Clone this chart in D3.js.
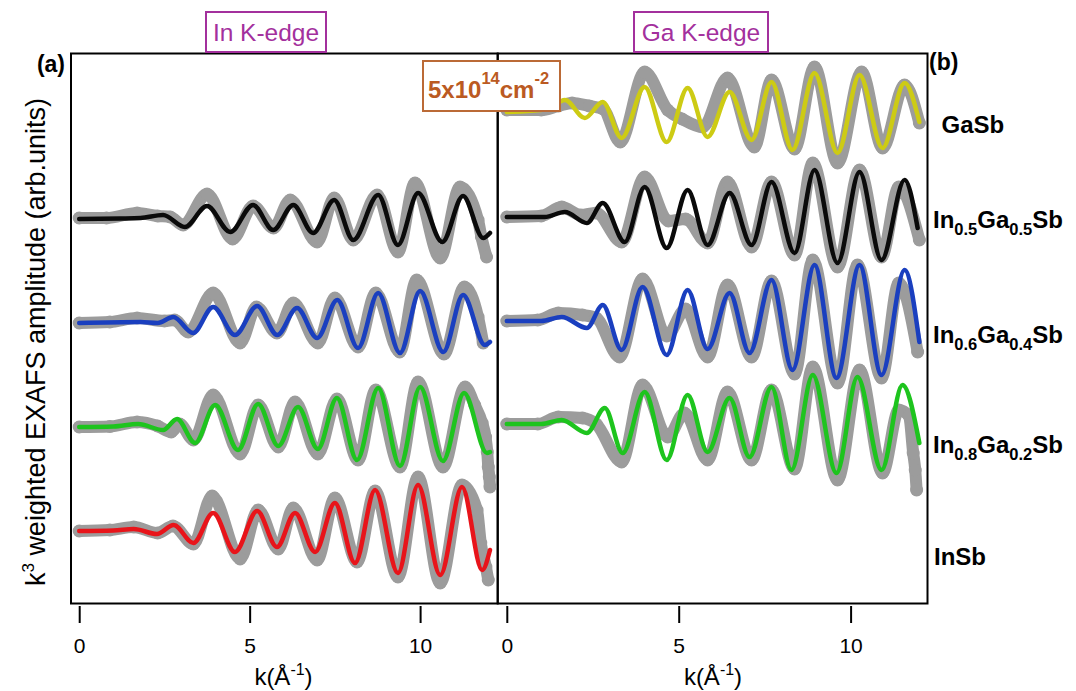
<!DOCTYPE html>
<html>
<head>
<meta charset="utf-8">
<script src="https://cdn.jsdelivr.net/npm/d3@7"></script>
<style>
  body { margin: 0; background: #fff; }
  svg { display: block; font-family: Arial, "Liberation Sans", sans-serif; }
</style>
</head>
<body>
<svg id="chart" width="1076" height="691"></svg>
<script>
// ---- tick values ----
const kTicks = [0, 5, 10];

// ---- sample names (right-hand labels, top to bottom) ----
const sampleNames = ["GaSb", "In0.5Ga0.5Sb", "In0.6Ga0.4Sb", "In0.8Ga0.2Sb", "InSb"];

// ---- vertical stacking offsets (arb. units) ----
const inEdgeOffsets = [38.4, 28.0, 17.6, 7.2];      // In0.5, In0.6, In0.8, InSb
const gaEdgeOffsets = [49.1, 38.6, 28.2, 17.9];     // GaSb, In0.5, In0.6, In0.8

// ---- In K-edge: k^3 chi(k), [k, amplitude] ----
const inFitIn05 = [[0,0],[1.2,0.05],[1.8,0.1],[2.46,0.4],[3.1,-0.8],[3.75,1.3],[4.43,-1.3],[5.1,1.4],[5.69,-1.1],[6.28,1.4],[6.86,-1.4],[7.48,1.9],[8.04,-2.1],[8.77,2.4],[9.35,-2.6],[9.94,2.6],[10.65,-2.3],[11.26,2.3],[11.85,-1.9],[12.05,-1.4]];
const inDataIn05 = [[0,0.1],[0.8,0.1],[1.7,0.6],[2.3,0.3],[2.67,0.2],[3.05,-0.6],[3.75,2.5],[4.5,-2.0],[5.1,1.3],[5.7,-0.9],[6.19,1.9],[6.98,-2.3],[7.48,2.1],[8.04,-2.1],[8.74,2.4],[9.35,-3.3],[9.85,3.6],[10.59,-3.9],[11.17,3.2],[11.7,-0.1],[11.8,-1.8],[11.95,-3.8]];

const inFitIn06 = [[0,0],[1.8,0.1],[2.3,0],[2.76,0.6],[3.34,-1.0],[3.93,1.6],[4.57,-1.2],[5.22,1.7],[5.81,-1.2],[6.39,1.5],[6.98,-1.5],[7.57,2.3],[8.18,-2.5],[8.77,3.0],[9.41,-3.0],[10.0,3.2],[10.68,-2.9],[11.26,2.8],[11.9,-2.2],[12.05,-1.9]];
const inDataIn06 = [[0,0],[0.9,0.1],[1.7,0.5],[2.5,0.2],[2.8,0.3],[3.2,-0.9],[3.93,3.0],[4.72,-2.0],[5.2,1.6],[5.8,-1.0],[6.28,2.0],[7.0,-2.0],[7.5,2.5],[8.18,-2.4],[8.7,3.0],[9.4,-2.9],[9.9,4.3],[10.7,-3.1],[11.3,3.6],[11.7,0.6],[11.85,-2.0]];

const inFitIn08 = [[0,0],[1.0,0.05],[1.73,0.3],[2.46,-0.3],[2.87,0.8],[3.4,-1.6],[3.99,2.2],[4.66,-2.3],[5.25,2.3],[5.84,-1.9],[6.42,2.0],[7.0,-2.2],[7.56,2.9],[8.15,-3.3],[8.77,3.9],[9.41,-3.9],[10.0,4.0],[10.67,-3.4],[11.29,3.4],[11.96,-2.6],[12.05,-2.5]];
const inDataIn08 = [[0,0],[0.9,0.05],[1.7,0.5],[2.3,0.1],[2.7,-0.5],[2.95,0.3],[3.35,-1.3],[3.93,3.2],[4.72,-2.7],[5.25,2.2],[5.84,-2.0],[6.33,2.5],[7.0,-2.7],[7.56,2.8],[8.18,-3.3],[8.7,3.7],[9.41,-4.0],[9.94,4.5],[10.67,-4.0],[11.32,4.0],[11.6,2.2],[11.82,0.4],[11.92,-1.0],[11.97,-2.5],[12.0,-4.0],[12.03,-5.0],[12.05,-6.0]];

const inFitInSb = [[0,0],[1.0,0.05],[1.6,0.2],[2.28,-0.3],[2.77,0.6],[3.35,-1.2],[3.93,1.8],[4.57,-2.1],[5.22,2.0],[5.8,-1.6],[6.33,1.8],[6.92,-2.1],[7.5,2.8],[8.09,-3.2],[8.68,4.1],[9.35,-4.2],[9.94,4.6],[10.59,-4.4],[11.23,4.4],[11.82,-3.9],[12.05,-1.9]];
const inDataInSb = [[0,0],[0.9,0.1],[1.6,0.4],[2.3,-0.2],[2.75,0.5],[3.35,-1.3],[3.9,3.5],[4.72,-2.8],[5.25,2.1],[5.84,-1.8],[6.28,2.3],[6.98,-2.9],[7.5,3.3],[8.15,-3.1],[8.68,4.0],[9.35,-4.6],[9.94,5.4],[10.59,-5.2],[11.23,4.6],[11.67,2.1],[11.78,-1.2],[11.93,-3.6],[12.0,-4.9]];

// ---- Ga K-edge: k^3 chi(k), [k, amplitude] ----
const gaFitGaSb = [[0,0],[1.2,0.3],[1.69,1.2],[2.27,-0.6],[2.79,1.0],[3.34,-2.6],[4.01,2.5],[4.65,-3.0],[5.26,2.4],[5.84,-2.5],[6.48,2.0],[7.12,-2.8],[7.7,3.0],[8.31,-3.8],[8.95,3.9],[9.62,-4.1],[10.26,3.7],[10.93,-3.6],[11.57,2.9],[12.0,-1.0]];
const gaDataGaSb = [[0,0.2],[1.0,0.2],[1.5,0.6],[1.9,0.9],[2.4,0.6],[2.8,0.3],[3.3,-3.0],[4.01,4.0],[4.68,0.2],[5.1,-0.7],[5.7,-1.5],[6.42,3.4],[7.2,-3.5],[7.7,3.2],[8.37,-3.7],[8.95,4.5],[9.62,-5.1],[10.32,4.0],[10.93,-3.6],[11.57,2.7],[12.0,-1.1]];

const gaFitIn05 = [[0,0],[1.1,0],[1.69,0.5],[2.33,-0.6],[2.79,1.4],[3.43,-2.5],[4.01,3.0],[4.65,-3.1],[5.26,2.7],[5.84,-2.8],[6.48,2.4],[7.12,-2.8],[7.7,3.5],[8.37,-3.6],[8.95,4.7],[9.62,-4.6],[10.26,4.5],[10.9,-4.3],[11.57,3.7],[11.95,-1.1]];
const gaDataIn05 = [[0,0],[1.0,0.1],[1.6,1.0],[2.15,0.2],[2.6,0.4],[3.34,-2.5],[4.01,4.0],[4.7,-0.4],[5.2,-0.2],[5.84,-2.6],[6.42,3.5],[7.12,-3.0],[7.7,3.5],[8.37,-3.8],[8.9,5.4],[9.62,-5.0],[10.26,4.7],[10.9,-4.0],[11.4,3.0],[12.0,-2.3]];

const gaFitIn06 = [[0,0],[1.0,0],[1.6,0.4],[2.33,-0.7],[2.79,1.6],[3.34,-2.9],[3.95,3.4],[4.65,-3.4],[5.26,3.1],[5.84,-2.8],[6.48,2.8],[7.06,-3.2],[7.7,4.1],[8.31,-4.9],[8.95,5.6],[9.59,-5.7],[10.26,5.6],[10.9,-5.4],[11.57,5.1],[12.0,-2.1]];
const gaDataIn06 = [[0,0],[0.9,0.1],[1.5,0.8],[2.2,0.6],[2.6,0.3],[3.28,-3.6],[3.95,4.2],[4.65,-1.5],[5.2,1.2],[5.84,-3.6],[6.42,3.6],[7.12,-3.6],[7.7,4.0],[8.37,-5.3],[8.9,6.1],[9.62,-6.2],[10.2,5.6],[10.9,-5.7],[11.4,3.8],[11.95,-3.1]];

const gaFitIn08 = [[0,0],[1.0,0],[1.6,0.4],[2.33,-0.9],[2.85,1.6],[3.37,-2.9],[4.01,3.2],[4.65,-3.6],[5.26,2.9],[5.84,-2.8],[6.48,2.6],[7.06,-3.3],[7.7,3.7],[8.28,-4.6],[8.9,4.9],[9.59,-4.9],[10.2,4.7],[10.9,-4.6],[11.51,3.9],[12.0,-1.9]];
const gaDataIn08 = [[0,0],[0.9,0],[1.5,0.7],[2.2,0.6],[2.6,0.0],[3.34,-3.8],[3.95,3.9],[4.68,-1.3],[5.17,1.1],[5.84,-3.6],[6.42,3.2],[7.12,-3.6],[7.7,3.4],[8.37,-4.5],[8.9,5.7],[9.62,-5.6],[10.26,5.4],[10.93,-4.9],[11.4,1.4],[11.7,0.8],[11.82,-2.9],[11.88,-4.6],[11.92,-6.6]];

// ---- colours ----
const dataGray = "#9c9c9c";
const fitColorsIn = ["#0a0a0a", "#1a3fbf", "#1ec41e", "#e8141a"];
const fitColorsGa = ["#cdcb14", "#0a0a0a", "#1a3fbf", "#1ec41e"];

// ---- series tables built from the arrays above ----
const inSeries = [
  { fit: inFitIn05, data: inDataIn05 },
  { fit: inFitIn06, data: inDataIn06 },
  { fit: inFitIn08, data: inDataIn08 },
  { fit: inFitInSb, data: inDataInSb }
].map((s, i) => ({ ...s, offset: inEdgeOffsets[i], color: fitColorsIn[i] }));

const gaSeries = [
  { fit: gaFitGaSb, data: gaDataGaSb },
  { fit: gaFitIn05, data: gaDataIn05 },
  { fit: gaFitIn06, data: gaDataIn06 },
  { fit: gaFitIn08, data: gaDataIn08 }
].map((s, i) => ({ ...s, offset: gaEdgeOffsets[i], color: fitColorsGa[i] }));

// ---- scales ----
const svg = d3.select("#chart");
const y = d3.scaleLinear().domain([0, 55]).range([603, 53]);
const xIn = d3.scaleLinear().domain([0, 10]).range([79.2, 420.1]);
const xGa = d3.scaleLinear().domain([0, 10]).range([506.8, 850.6]);

// panel frames
const frameTop = 53.5, frameBottom = 603.5;
const frames = [[71, 497.7], [497.7, 927.5]];
frames.forEach(([x0, x1]) => {
  svg.append("rect")
    .attr("x", x0).attr("y", frameTop)
    .attr("width", x1 - x0).attr("height", frameBottom - frameTop)
    .attr("fill", "none").attr("stroke", "#000").attr("stroke-width", 2);
});

function drawPanel(x, series) {
  const g = svg.append("g");
  const lineFor = s => d3.line()
    .x(d => x(d[0]))
    .y(d => y(d[1] + s.offset))
    .curve(d3.curveMonotoneX);

  // measured data: thick grey markers
  series.forEach(s => {
    g.append("path")
      .attr("d", lineFor(s)(s.data))
      .attr("fill", "none").attr("stroke", dataGray)
      .attr("stroke-width", 12)
      .attr("stroke-linecap", "round").attr("stroke-linejoin", "round");
    g.selectAll(null).data(s.data).join("circle")
      .attr("cx", d => x(d[0]))
      .attr("cy", d => y(d[1] + s.offset))
      .attr("r", 6.5).attr("fill", dataGray);
  });
  // fits
  series.forEach(s => {
    g.append("path")
      .attr("d", lineFor(s)(s.fit))
      .attr("fill", "none").attr("stroke", s.color)
      .attr("stroke-width", 4.5)
      .attr("stroke-linecap", "round").attr("stroke-linejoin", "round");
  });
}
drawPanel(xIn, inSeries);
drawPanel(xGa, gaSeries);

// bottom axes
[xIn, xGa].forEach(x => {
  const ax = svg.append("g")
    .attr("transform", "translate(0,606)")
    .call(d3.axisBottom(x).tickValues(kTicks).tickSize(17).tickPadding(15.5).tickFormat(d3.format("d")));
  ax.select(".domain").remove();
  ax.selectAll(".tick line").attr("stroke", "#000").attr("stroke-width", 2);
  ax.selectAll(".tick text")
    .attr("fill", "#000").style("font-size", "21px")
    .style("font-family", "Arial, 'Liberation Sans', sans-serif");
});

// axis titles k(Å^-1)
[283.5, 713].forEach(cx => {
  const t = svg.append("text")
    .attr("x", cx).attr("y", 685)
    .attr("text-anchor", "middle")
    .style("font-size", "24px").attr("fill", "#000");
  t.append("tspan").text("k(Å");
  t.append("tspan").attr("dy", -10).style("font-size", "16px").text("-1");
  t.append("tspan").attr("dy", 10).text(")");
});

// y axis title
const yt = svg.append("text")
  .attr("transform", "translate(45,342) rotate(-90)")
  .attr("text-anchor", "middle")
  .style("font-size", "27px").attr("fill", "#000");
yt.append("tspan").text("k");
yt.append("tspan").attr("dy", -11).style("font-size", "17px").text("3");
yt.append("tspan").attr("dy", 11).text(" weighted EXAFS amplitude (arb.units)");

// panel letters
svg.append("text").attr("x", 65).attr("y", 72).attr("text-anchor", "end")
  .style("font-size", "23px").style("font-weight", "bold").text("(a)");
svg.append("text").attr("x", 929).attr("y", 70)
  .style("font-size", "23px").style("font-weight", "bold").text("(b)");

// edge titles in boxes over the top frame
[["In K-edge", 206, 326], ["Ga K-edge", 634, 768]].forEach(([label, x0, x1]) => {
  svg.append("rect").attr("x", x0).attr("y", 12).attr("width", x1 - x0).attr("height", 40)
    .attr("fill", "#fff").attr("stroke", "#a3309d").attr("stroke-width", 2);
  svg.append("text").attr("x", (x0 + x1) / 2).attr("y", 41)
    .attr("text-anchor", "middle").attr("fill", "#a3309d")
    .style("font-size", "24.5px").text(label);
});

// fluence box
svg.append("rect").attr("x", 423).attr("y", 61).attr("width", 137).attr("height", 50)
  .attr("fill", "#fff").attr("stroke", "#bb6a36").attr("stroke-width", 2);
const fl = svg.append("text").attr("x", 428).attr("y", 98)
  .attr("fill", "#bb5a22").style("font-weight", "bold").style("font-size", "24px");
fl.append("tspan").text("5x10");
fl.append("tspan").attr("dy", -14).style("font-size", "16.5px").text("14");
fl.append("tspan").attr("dy", 14).text("cm");
fl.append("tspan").attr("dy", -14).style("font-size", "16.5px").text("-2");

// sample labels on the right
const labelX = [941.5, 933, 933, 933, 934];
const labelBaselines = [133, 228, 343, 453, 565];
sampleNames.forEach((name, i) => {
  const t = svg.append("text").attr("x", labelX[i]).attr("y", labelBaselines[i])
    .style("font-weight", "bold").style("font-size", "24px").attr("fill", "#000");
  const parts = name.split(/(\d\.\d)/).filter(p => p.length);
  let sub = false;
  parts.forEach(p => {
    const isSub = /^\d\.\d$/.test(p);
    const ts = t.append("tspan").text(p);
    if (isSub && !sub) { ts.attr("dy", 7).style("font-size", "16.5px"); sub = true; }
    else if (isSub) { ts.style("font-size", "16.5px"); }
    else if (sub) { ts.attr("dy", -7); sub = false; }
  });
});
</script>
</body>
</html>
